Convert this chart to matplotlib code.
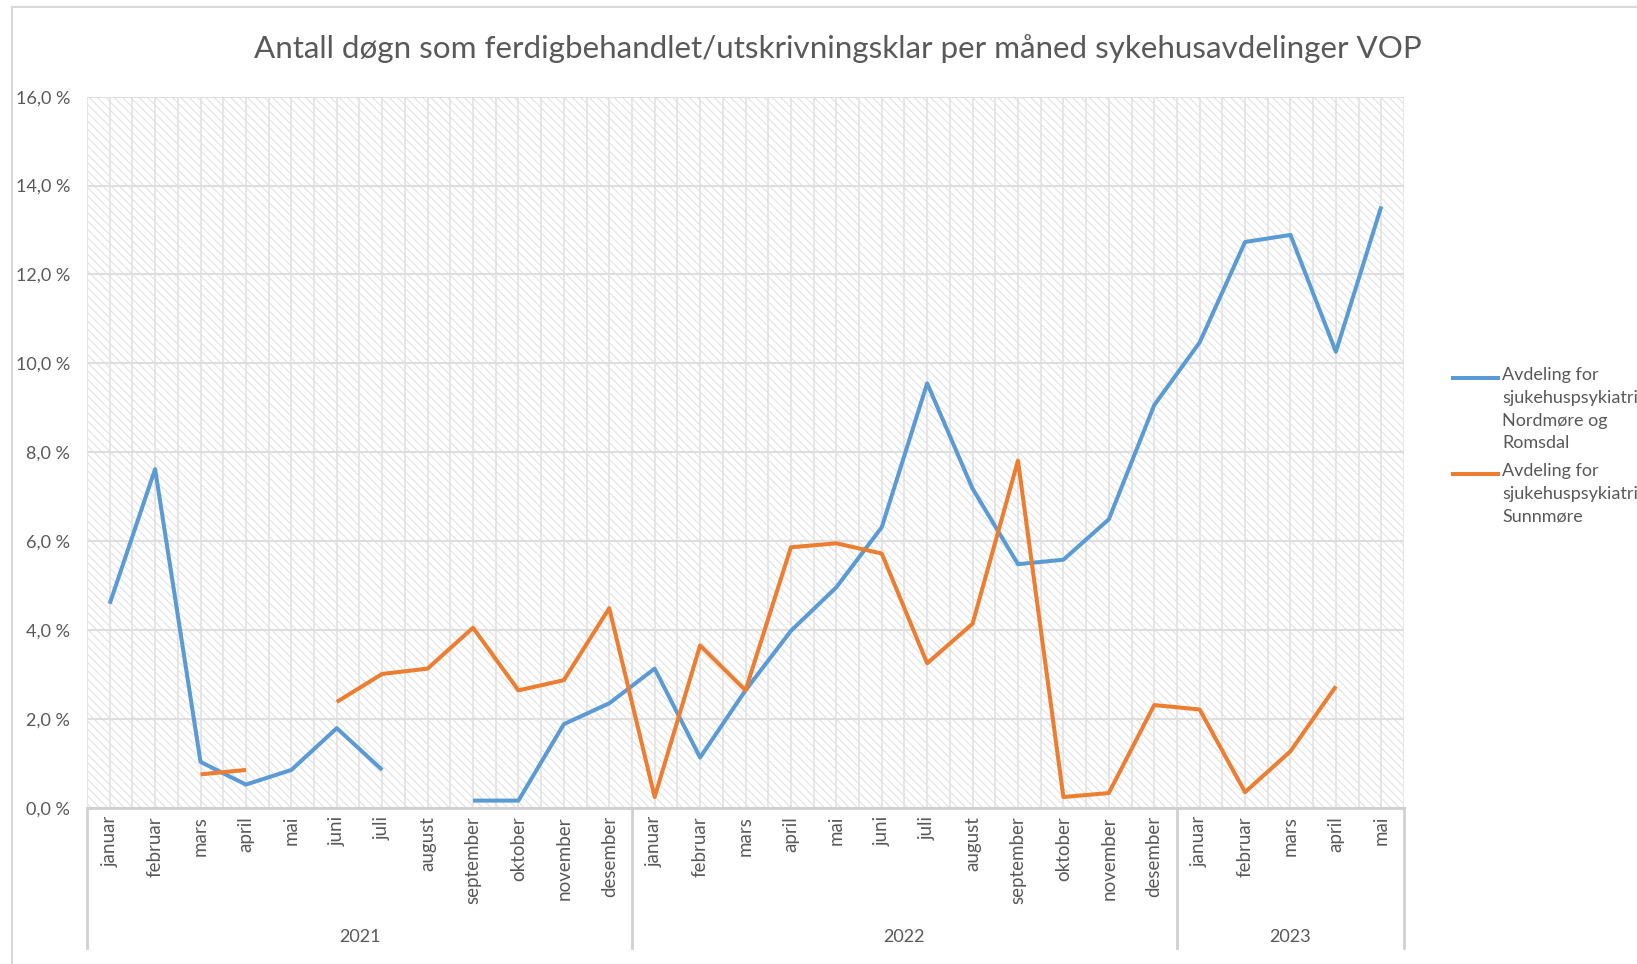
import matplotlib.pyplot as plt
from matplotlib.lines import Line2D
from matplotlib.patches import Rectangle
import matplotlib.transforms as mtransforms
import numpy as np

plt.rcParams['font.family'] = ['Lato', 'DejaVu Sans']
plt.rcParams['hatch.linewidth'] = 0.7
plt.rcParams['hatch.color'] = '#dfdfdf'

tittel = 'Antall døgn som ferdigbehandlet/utskrivningsklar per måned sykehusavdelinger VOP'
maneder = ['januar', 'februar', 'mars', 'april', 'mai', 'juni', 'juli', 'august',
           'september', 'oktober', 'november', 'desember']
ar = ['2021', '2022', '2023']
antall_mnd = [12, 12, 5]
navn_nr = 'Avdeling for\nsjukehuspsykiatri\nNordmøre og\nRomsdal'
navn_sm = 'Avdeling for\nsjukehuspsykiatri\nSunnmøre'

nan = np.nan
# prosent, januar 2021 - mai 2023
nordmore = [4.59, 7.62, 1.03, 0.52, 0.85, 1.79, 0.85, nan, 0.16, 0.16, 1.88, 2.35,
            3.13, 1.13, 2.64, 3.98, 4.96, 6.31, 9.55, 7.18, 5.48, 5.58, 6.49, 9.06,
            10.47, 12.73, 12.89, 10.26, 13.53]
sunnmore = [nan, nan, 0.75, 0.85, nan, 2.38, 3.01, 3.13, 4.05, 2.64, 2.87, 4.49,
            0.24, 3.65, 2.64, 5.86, 5.95, 5.72, 3.25, 4.14, 7.81, 0.24, 0.33, 2.31,
            2.21, 0.35, 1.27, 2.73, nan]

etiketter = []
for n in antall_mnd:
    etiketter += maneder[:n]
x = np.arange(len(etiketter))

grå = '#595959'
blå = '#5B9BD5'
oransje = '#ED7D31'

fig = plt.figure(figsize=(16.37, 9.64), dpi=100)
ax = fig.add_axes([87 / 1637, 1 - 807.7 / 964, (1404 - 87) / 1637, 711 / 964])

ax.set_xlim(-0.5, len(x) - 0.5)
ax.set_ylim(0, 16)

# skravert bakgrunn
ax.add_patch(Rectangle((0, 0), 1, 1, transform=ax.transAxes, facecolor='white',
                       edgecolor='#dfdfdf', hatch='\\\\\\\\', lw=0, zorder=0))

for xv in np.arange(-0.5, len(x), 0.5):
    ax.axvline(xv, color='#e4e4e4', lw=1.3, zorder=1)
for yv in range(0, 17, 2):
    ax.axhline(yv, color='#dedede', lw=1.5, zorder=1)

ax.plot(x, nordmore, color=blå, lw=2.9, zorder=3, solid_capstyle='butt')
ax.plot(x, sunnmore, color=oransje, lw=2.9, zorder=3, solid_capstyle='butt')

for s in ['top', 'right', 'left']:
    ax.spines[s].set_visible(False)
ax.spines['bottom'].set_color('#d0d0d0')
ax.spines['bottom'].set_linewidth(2)

ax.set_yticks(range(0, 17, 2))
ax.set_yticklabels([f'{v},0 %' for v in range(0, 17, 2)], color=grå, fontsize=13)
ax.tick_params(axis='y', length=0, pad=12)
ax.set_xticks(x)
ax.set_xticklabels(etiketter, rotation=90, color=grå, fontsize=13.5)
ax.tick_params(axis='x', length=0, pad=6)

# årsgrupper under aksen
trans = mtransforms.blended_transform_factory(ax.transData, ax.transAxes)
start = -0.5
grenser = [start]
for a, n in zip(ar, antall_mnd):
    ax.text(start + n / 2, -0.182, a, transform=trans, ha='center', va='center',
            color=grå, fontsize=13)
    start += n
    grenser.append(start)
for g in grenser:
    ax.add_line(Line2D([g, g], [0, -0.197], transform=trans, color='#d0d0d0', lw=2,
                       clip_on=False))

fig.text(838 / 1637, 1 - 49 / 964, tittel, ha='center', va='center', color=grå, fontsize=22.6)

# forklaring
for yl, farge, navn in [(378, blå, navn_nr), (474, oransje, navn_sm)]:
    fig.add_artist(Line2D([1453 / 1637, 1498 / 1637], [1 - yl / 964] * 2, color=farge, lw=2.9))
    fig.text(1502 / 1637, 1 - (yl - 11) / 964, navn, ha='left', va='top', color=grå,
             fontsize=13, linespacing=1.52)

# ramme
fig.add_artist(Line2D([12 / 1637, 12 / 1637], [0, 1 - 7 / 964], color='#d9d9d9', lw=1.5))
fig.add_artist(Line2D([12 / 1637, 1], [1 - 7 / 964, 1 - 7 / 964], color='#d9d9d9', lw=1.5))

fig.savefig('out.png', dpi=100)
